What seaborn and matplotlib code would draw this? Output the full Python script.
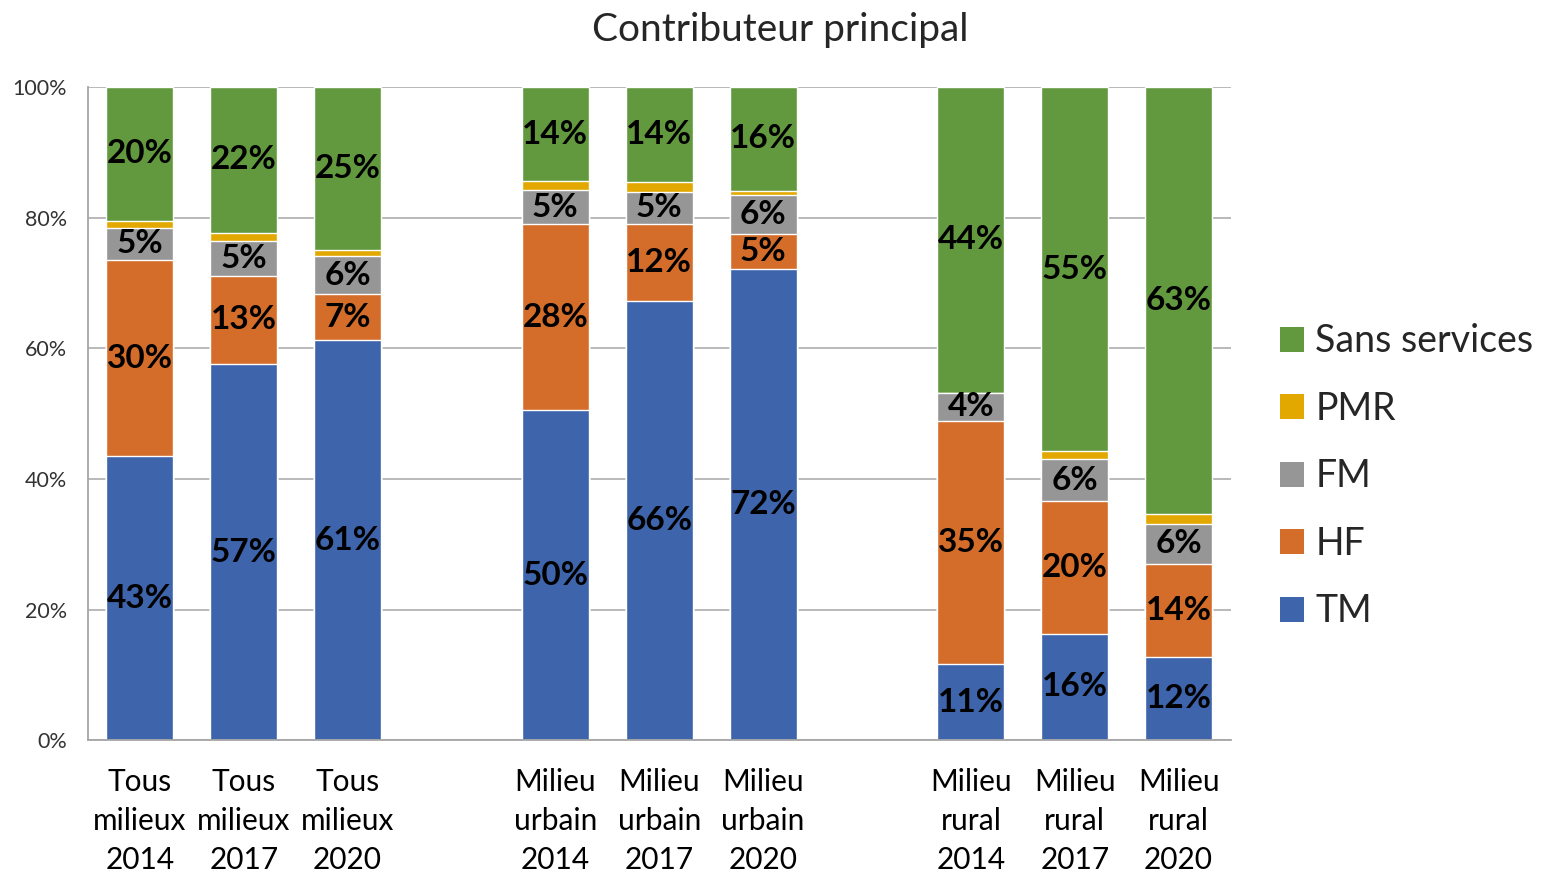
import pandas as pd
import matplotlib.pyplot as plt
import seaborn as sns
from matplotlib.patches import Patch

# Raw values as shown in the data labels (Excel 100% stacked, so each bar is normalised)
categories = [
    "Tous milieux 2014", "Tous milieux 2017", "Tous milieux 2020",
    "Milieu urbain 2014", "Milieu urbain 2017", "Milieu urbain 2020",
    "Milieu rural 2014", "Milieu rural 2017", "Milieu rural 2020",
]
tick_labels = [
    "Tous\nmilieux\n2014", "Tous\nmilieux\n2017", "Tous\nmilieux\n2020",
    "Milieu\nurbain\n2014", "Milieu\nurbain\n2017", "Milieu\nurbain\n2020",
    "Milieu\nrural\n2014", "Milieu\nrural\n2017", "Milieu\nrural\n2020",
]
tm = [43.4, 57.4, 61.3, 50.4, 66.4, 72.0, 11.0, 16.0, 12.4]
hf = [30.0, 13.4, 7.0, 28.4, 11.7, 5.4, 35.0, 19.8, 13.8]
fm = [4.9, 5.3, 5.8, 5.2, 4.9, 5.9, 4.0, 6.4, 5.9]
pmr = [1.1, 1.3, 0.9, 1.3, 1.4, 0.7, 0.0, 1.1, 1.5]
sans = [20.4, 22.2, 25.0, 14.4, 14.4, 15.8, 44.0, 54.6, 63.2]

layers = ["TM", "HF", "FM", "PMR", "Sans services"]
labelled = ["TM", "HF", "FM", "Sans services"]
colors = {
    "TM": "#3E64AC",
    "HF": "#D46D2A",
    "FM": "#969696",
    "PMR": "#E2A800",
    "Sans services": "#62993E",
}

# empty slots between the three groups
order = categories[:3] + ["_gap1"] + categories[3:6] + ["_gap2"] + categories[6:]
order_labels = tick_labels[:3] + [""] + tick_labels[3:6] + [""] + tick_labels[6:]

df = pd.DataFrame({"cat": categories, "TM": tm, "HF": hf, "FM": fm, "PMR": pmr, "Sans services": sans})
total = df[layers].sum(axis=1)
shares = df[layers].div(total, axis=0) * 100
cum = shares.cumsum(axis=1)
cum["cat"] = df["cat"]

sns.set_theme(style="white")
plt.rcParams["font.family"] = ["Lato", "DejaVu Sans"]

fig = plt.figure(figsize=(15.42, 8.71), dpi=100)
ax = fig.add_axes([0.057, 0.150, 0.741, 0.750])

# overdraw cumulative totals, top layer first
for layer in reversed(layers):
    sns.barplot(data=cum, x="cat", y=layer, order=order, color=colors[layer],
                saturation=1, width=0.645, errorbar=None, ax=ax, zorder=2)

# data labels centred in each segment
for i, cat in enumerate(categories):
    pos = order.index(cat)
    base = 0.0
    for layer in layers:
        h = shares.loc[i, layer]
        if layer in labelled and h > 0:
            ax.text(pos, base + h / 2, f"{df.loc[i, layer]:.0f}%", ha="center", va="center",
                    fontsize=24, fontweight="bold", color="black", zorder=3)
        base += h

ax.set_ylim(0, 100)
ax.set_xlim(-0.5, len(order) - 0.5)
ax.set_yticks(range(0, 101, 20))
ax.set_yticklabels([f"{v}%" for v in range(0, 101, 20)], fontsize=15.5, color="#333333")
ax.set_xticks(range(len(order)))
ax.set_xticklabels(order_labels, fontsize=21.5, color="black", linespacing=1.47)
ax.tick_params(axis="both", length=0)
ax.tick_params(axis="x", pad=20)
ax.tick_params(axis="y", pad=15)
ax.set_xlabel("")
ax.set_ylabel("")

ax.yaxis.grid(True, color="#B3B3B3", linewidth=1.3)
ax.set_axisbelow(True)
for side in ["top", "right"]:
    ax.spines[side].set_visible(False)
for side in ["left", "bottom"]:
    ax.spines[side].set_color("#A6A6A6")
    ax.spines[side].set_linewidth(1.3)

handles = [Patch(facecolor=colors[l], edgecolor="none", label=l) for l in reversed(layers)]
fig.legend(handles=handles, loc="center left", bbox_to_anchor=(0.808, 0.453),
           frameon=False, fontsize=27, handlelength=0.65, handleheight=0.65,
           labelspacing=0.84, handletextpad=0.3)

fig.text(0.506, 0.965, "Contributeur principal", ha="center", va="center", fontsize=28)

fig.savefig("out.png", dpi=100)
